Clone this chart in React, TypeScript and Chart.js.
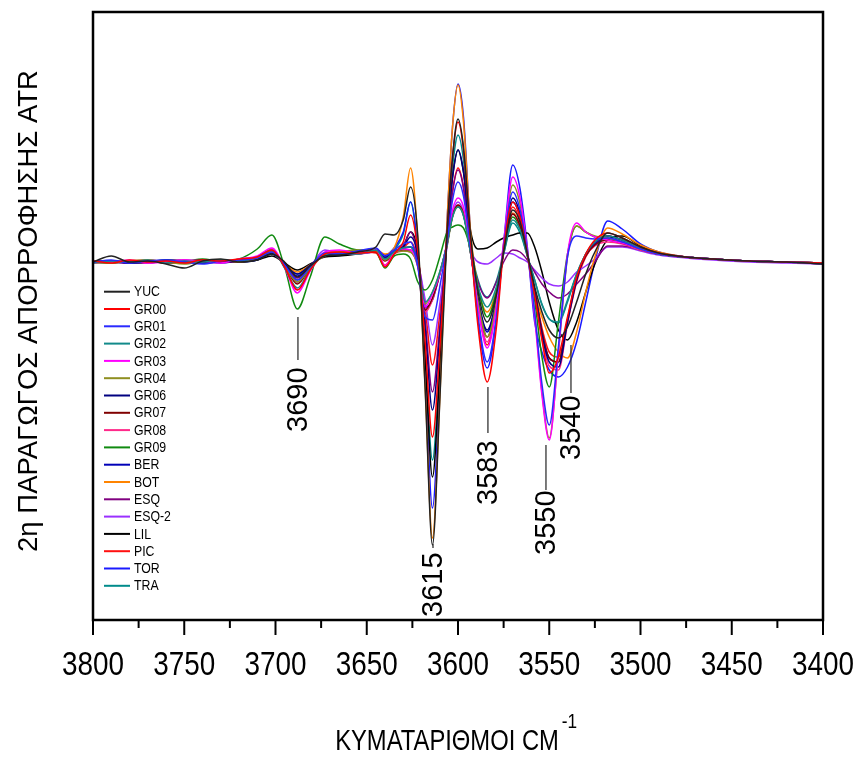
import React, { useEffect, useRef } from "react";
import { Chart, registerables } from "chart.js";

Chart.register(...registerables);

// Wavenumbers (cm^-1) at which the second-derivative values were read
const WAVENUMBERS = [
  3800, 3790, 3780, 3770, 3760, 3750, 3740, 3730, 3720, 3710,
  3702, 3695, 3688, 3681, 3673, 3665, 3655, 3645, 3640, 3635,
  3630, 3626, 3622, 3618, 3614, 3610, 3606, 3603, 3600, 3597,
  3593, 3589, 3584, 3579, 3575, 3570, 3566, 3562, 3558, 3554,
  3550, 3545, 3540, 3535, 3530, 3525, 3518, 3510, 3500, 3490,
  3475, 3460, 3440, 3420, 3400,
];

// Series values (arbitrary derivative units)
const YUC = [0, 6, 0, 1, -2, -6, 1, 3, 0, 2, 8, 0, -15, -4, 6, 7, 10, 15, 28, 27, 42, 75, 25, -127, -283, -140, 30, 105, 143, 115, 25, -30, -60, -33, 10, 52, 40, 8, -25, -50, -68, -76, -65, -40, -12, 10, 29, 24, 15, 9, 5, 3, 1, 0, -2];
const GR00 = [1, -1, 2, 0, 1, -1, 2, 1, 3, 5, 12, -5, -28, -8, 8, 10, 9, 10, -5, 8, 20, 47, 10, -80, -175, -88, 30, 105, 140, 112, 18, -65, -120, -66, 12, 60, 45, 8, -33, -78, -111, -95, -55, -15, 8, 22, 29, 24, 15, 9, 5, 3, 1, 0, -1];
const GR01 = [0, 2, -1, 1, 2, 0, -2, 1, 2, 4, 10, -3, -18, -5, 9, 8, 11, 14, 6, 12, 18, 20, -5, -55, -58, -25, 20, 62, 80, 66, 12, -55, -100, -55, 15, 70, 52, 10, -50, -122, -163, -85, 5, 26, 24, 23, 24, 20, 13, 8, 5, 3, 1, 0, -2];
const GR02 = [-1, 1, 0, 2, -1, 1, 0, 2, 1, 5, 12, -6, -26, -7, 7, 9, 8, 12, 3, 10, 14, 15, -2, -40, -30, -10, 18, 45, 55, 46, 8, -25, -45, -25, 8, 42, 32, 6, -18, -42, -57, -60, -38, -12, 8, 20, 26, 22, 14, 8, 5, 3, 1, 0, -1];
const GR03 = [1, 0, 2, -1, 0, 2, 1, -1, 3, 6, 14, -6, -31, -9, 10, 12, 9, 13, -4, 9, 13, 12, -3, -45, -32, -12, 20, 52, 64, 55, 10, -45, -86, -45, 20, 85, 64, 12, -55, -133, -178, -90, 8, 39, 30, 25, 22, 19, 13, 8, 5, 3, 1, 0, -1];
const GR04 = [0, -1, 1, 2, 0, -2, 1, 2, 1, 4, 10, -4, -20, -6, 8, 10, 12, 11, 2, 9, 11, 10, -4, -42, -30, -10, 16, 45, 55, 47, 8, -40, -75, -40, 18, 77, 58, 11, -52, -130, -176, -92, 5, 36, 30, 26, 24, 20, 13, 8, 5, 3, 1, 0, -1];
const GR06 = [0, 1, -1, 0, 2, 1, -1, 0, 2, 3, 9, -2, -12, -3, 7, 8, 10, 12, 5, 10, 15, 25, 5, -66, -148, -74, 25, 84, 112, 90, 15, -37, -68, -37, 13, 64, 48, 9, -30, -73, -100, -105, -60, -18, 8, 20, 26, 22, 14, 8, 5, 3, 1, 0, -1];
const GR07 = [1, 0, 1, 1, -1, 0, 2, 0, 1, 4, 10, -4, -22, -6, 8, 9, 10, 10, 1, 9, 12, 12, -3, -48, -36, -12, 18, 46, 57, 48, 8, -40, -75, -40, 10, 48, 36, 7, -28, -70, -96, -100, -58, -16, 6, 17, 22, 19, 13, 8, 5, 3, 1, 0, -1];
const GR08 = [-1, 1, 0, -1, 1, 2, 0, 1, 2, 5, 13, -5, -28, -8, 9, 11, 8, 12, -3, 8, 11, 10, -5, -50, -38, -12, 18, 46, 57, 48, 8, -42, -80, -42, 10, 48, 36, 7, -30, -76, -104, -108, -62, -16, 6, 16, 20, 18, 12, 8, 5, 3, 1, 0, -1];
const GR09 = [0, -1, 1, 0, 2, 1, 3, 1, 3, 13, 27, -5, -47, -15, 25, 18, 12, 10, -6, 6, 8, 3, -20, -28, -18, 5, 30, 35, 37, 34, 12, -25, -55, -30, 10, 45, 34, 7, -38, -95, -125, -60, 8, 36, 30, 25, 22, 19, 13, 8, 5, 3, 1, 0, -1];
const BER = [0, 1, 0, -1, 1, 0, 1, -1, 1, 3, 8, -2, -14, -4, 7, 9, 11, 13, 6, 11, 14, 15, 0, -45, -38, -12, 18, 46, 56, 47, 8, -38, -70, -38, 12, 60, 45, 8, -28, -70, -96, -100, -58, -16, 7, 18, 24, 20, 13, 8, 5, 3, 1, 0, -1];
const BOT = [0, 1, 0, 1, -1, 0, 1, 1, 0, 3, 8, -2, -10, -3, 6, 8, 10, 12, 8, 14, 45, 94, 22, -125, -276, -138, 40, 135, 177, 140, 28, -25, -50, -28, 10, 49, 37, 8, -30, -55, -75, -90, -96, -70, -30, 5, 34, 28, 17, 10, 5, 3, 1, 0, -2];
const ESQ = [1, 0, -1, 1, 0, 1, 0, 2, 1, 4, 9, -3, -16, -4, 7, 8, 9, 11, 4, 10, 16, 30, 5, -58, -130, -65, 20, 70, 92, 74, 12, -20, -36, -20, 0, 12, 10, 2, -10, -22, -30, -36, -32, -22, -12, 0, 16, 16, 12, 8, 5, 3, 1, 0, -1];
const ESQ_2 = [0, -1, 1, 0, 1, -1, 2, 0, 1, 5, 12, -4, -20, -5, 12, 9, 8, 10, 4, 9, 13, 15, 0, -38, -83, -42, 15, 48, 60, 50, 12, 0, -2, 4, 9, 8, 4, 0, -8, -16, -22, -24, -20, -10, -4, 3, 15, 15, 11, 7, 4, 2, 0, -1, -2];
const LIL = [0, 1, -1, 0, 1, 0, -1, 1, 0, 2, 6, -1, -8, -2, 5, 6, 8, 10, 6, 10, 16, 30, 5, -97, -215, -108, 25, 85, 112, 90, 30, 13, 14, 20, 24, 27, 29, 29, 15, -10, -40, -68, -78, -60, -30, -2, 22, 26, 16, 9, 5, 3, 1, 0, -2];
const PIC = [-1, 0, 1, 2, 0, -1, 1, 0, 2, 4, 10, -3, -20, -6, 8, 9, 10, 9, -4, 9, 14, 20, 2, -46, -103, -52, 22, 71, 94, 75, 12, -45, -83, -45, 11, 55, 41, 8, -28, -66, -90, -95, -60, -20, 5, 18, 26, 22, 14, 8, 5, 3, 1, 0, -1];
const TOR = [1, 0, -1, 1, 0, 2, 0, 1, 0, 2, 8, -2, -12, -3, 6, 7, 9, 12, 7, 14, 30, 60, 12, -110, -246, -123, 40, 135, 178, 145, 25, -58, -106, -58, 18, 97, 73, 15, -60, -90, -108, -115, -105, -80, -40, 0, 41, 33, 18, 10, 5, 3, 1, 0, -2];
const TRA = [0, 1, 0, -1, 1, 1, 0, 1, 1, 3, 10, -3, -18, -5, 7, 8, 10, 12, 6, 12, 28, 60, 10, -89, -198, -99, 30, 95, 127, 102, 18, -18, -35, -19, 8, 39, 29, 6, -18, -43, -57, -61, -40, -12, 8, 20, 26, 22, 14, 8, 5, 3, 1, 0, -1];

const SERIES_NAMES = ["YUC", "GR00", "GR01", "GR02", "GR03", "GR04", "GR06", "GR07", "GR08", "GR09", "BER", "BOT", "ESQ", "ESQ-2", "LIL", "PIC", "TOR", "TRA"];
const SERIES_VALUES = [YUC, GR00, GR01, GR02, GR03, GR04, GR06, GR07, GR08, GR09, BER, BOT, ESQ, ESQ_2, LIL, PIC, TOR, TRA];
const SERIES_COLORS = ["#222222", "#ff0000", "#2a2aff", "#128a8a", "#ff00ff", "#8f8f20", "#000080", "#800000", "#ff2a8a", "#108a10", "#0000b8", "#ff8400", "#800080", "#9a30ff", "#000000", "#ff1010", "#1a1aff", "#008b8b"];

// X axis tick labels
const X_TICKS = [3800, 3750, 3700, 3650, 3600, 3550, 3500, 3450, 3400];

// Peak annotations: label, wavenumber, leader line start/end and text start (y data units)
const PEAK_LABELS = ["3690", "3615", "3583", "3550", "3540"];
const PEAK_WAVENUMBERS = [3687.7, 3613.7, 3583.6, 3551.8, 3538.1];
const PEAK_LINE_TOP = [-55, -282, -125, -183, -83];
const PEAK_LINE_BOTTOM = [-98, -286, -171, -228, -131];
const PEAK_TEXT_START = [-170, -355, -243, -293, -198];

const X_TITLE = "ΚΥΜΑΤΑΡΙΘΜΟΙ CM";
const X_TITLE_SUP = "-1";
const Y_TITLE = "2η ΠΑΡΑΓΩΓΟΣ ΑΠΟΡΡΟΦΗΣΗΣ ATR";

const SANS = "'Liberation Sans', Arial, sans-serif";
const NARROW_SCALE = 0.82;

function narrowText(ctx: CanvasRenderingContext2D, text: string, x: number, y: number, size: number, align: CanvasTextAlign, baseline: CanvasTextBaseline) {
  ctx.save();
  ctx.translate(x, y);
  ctx.scale(NARROW_SCALE, 1);
  ctx.font = `${size}px ${SANS}`;
  ctx.textAlign = align;
  ctx.textBaseline = baseline;
  ctx.fillText(text, 0, 0);
  ctx.restore();
}

const decorPlugin = {
  id: "decor",
  afterDatasetsDraw(chart: any) {
    const { ctx, chartArea: a, scales } = chart;
    const xs = scales.x;
    const ys = scales.y;
    ctx.save();

    // peak annotations
    for (let i = 0; i < PEAK_LABELS.length; i++) {
      const x = xs.getPixelForValue(PEAK_WAVENUMBERS[i]);
      ctx.strokeStyle = "#333";
      ctx.lineWidth = 1.3;
      ctx.beginPath();
      ctx.moveTo(x, ys.getPixelForValue(PEAK_LINE_TOP[i]));
      ctx.lineTo(x, ys.getPixelForValue(PEAK_LINE_BOTTOM[i]));
      ctx.stroke();
      ctx.save();
      ctx.translate(x + 1, ys.getPixelForValue(PEAK_TEXT_START[i]));
      ctx.rotate(-Math.PI / 2);
      ctx.font = `29px ${SANS}`;
      ctx.fillStyle = "#000";
      ctx.textAlign = "left";
      ctx.textBaseline = "middle";
      ctx.fillText(PEAK_LABELS[i], 0, 0);
      ctx.restore();
    }

    // legend
    ctx.fillStyle = "#000";
    for (let i = 0; i < SERIES_NAMES.length; i++) {
      const y = 291.7 + i * 17.3;
      ctx.strokeStyle = SERIES_COLORS[i];
      ctx.lineWidth = 2;
      ctx.beginPath();
      ctx.moveTo(a.left + 11, y);
      ctx.lineTo(a.left + 37, y);
      ctx.stroke();
      narrowText(ctx, SERIES_NAMES[i], a.left + 41, y + 0.5, 15, "left", "middle");
    }

    // frame
    ctx.strokeStyle = "#000";
    ctx.lineWidth = 2.5;
    ctx.strokeRect(a.left, a.top, a.right - a.left, a.bottom - a.top);

    // ticks (major and minor) and tick labels
    ctx.lineWidth = 2;
    for (let i = 0; i < X_TICKS.length; i++) {
      const x = xs.getPixelForValue(X_TICKS[i]);
      ctx.beginPath();
      ctx.moveTo(x, a.bottom);
      ctx.lineTo(x, a.bottom + 15);
      ctx.stroke();
      if (i < X_TICKS.length - 1) {
        const xm = xs.getPixelForValue((X_TICKS[i] + X_TICKS[i + 1]) / 2);
        ctx.beginPath();
        ctx.moveTo(xm, a.bottom);
        ctx.lineTo(xm, a.bottom + 8);
        ctx.stroke();
      }
      narrowText(ctx, String(X_TICKS[i]), x, a.bottom + 55, 34, "center", "alphabetic");
    }

    // x title with superscript
    ctx.font = `29px ${SANS}`;
    const w = ctx.measureText(X_TITLE).width * NARROW_SCALE;
    const tx = 447 - w / 2;
    narrowText(ctx, X_TITLE, tx, 750, 29, "left", "alphabetic");
    narrowText(ctx, X_TITLE_SUP, tx + w + 3, 728, 21, "left", "alphabetic");

    // y title
    ctx.save();
    ctx.translate(29, 311);
    ctx.rotate(-Math.PI / 2);
    ctx.font = `27.5px ${SANS}`;
    ctx.textAlign = "center";
    ctx.textBaseline = "middle";
    ctx.fillText(Y_TITLE, 0, 0);
    ctx.restore();

    ctx.restore();
  },
};

export default function App() {
  const ref = useRef<HTMLCanvasElement | null>(null);
  useEffect(() => {
    if (!ref.current) return;
    const datasets = SERIES_NAMES.map((name, i) => ({
      label: name,
      data: WAVENUMBERS.map((w, j) => ({ x: w, y: SERIES_VALUES[i][j] })),
      borderColor: SERIES_COLORS[i],
      backgroundColor: SERIES_COLORS[i],
      borderWidth: 1.5,
      pointRadius: 0,
      cubicInterpolationMode: "monotone" as const,
      fill: false,
    }));
    const chart = new Chart(ref.current, {
      type: "line",
      data: { datasets },
      options: {
        responsive: false,
        devicePixelRatio: 1,
        animation: false,
        layout: { padding: { left: 93, right: 33, top: 12, bottom: 0 } },
        plugins: { legend: { display: false }, tooltip: { enabled: false } },
        scales: {
          x: {
            type: "linear",
            reverse: true,
            min: 3400,
            max: 3800,
            afterBuildTicks: (s: any) => {
              s.ticks = X_TICKS.map((v) => ({ value: v }));
            },
            afterFit: (s: any) => {
              s.height = 137;
            },
            grid: { display: false },
            border: { display: false },
            ticks: { display: false },
          },
          y: {
            display: false,
            min: -358,
            max: 250,
          },
        },
      },
      plugins: [decorPlugin],
    });
    return () => chart.destroy();
  }, []);
  return (
    <div style={{ position: "absolute", left: 0, top: 0, width: 856, height: 757, background: "#fff" }}>
      <canvas ref={ref} width={856} height={757} style={{ display: "block" }} />
    </div>
  );
}
